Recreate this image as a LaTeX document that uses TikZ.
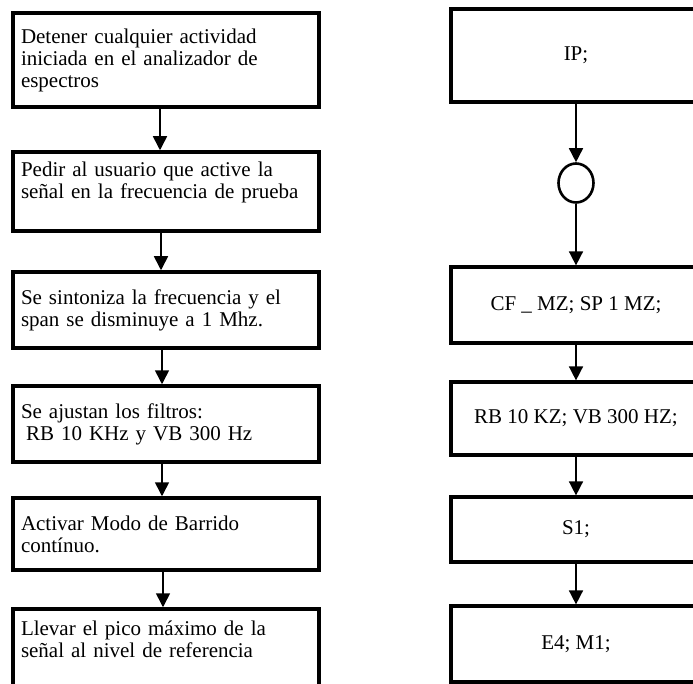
\documentclass[tikz,border=0pt]{standalone}
\usepackage{fontspec}
\setmainfont{Liberation Serif}
\usetikzlibrary{shapes.geometric, arrows.meta, positioning}

\begin{document}
\begin{tikzpicture}[x=1pt, y=-1pt,
  stepbox/.style={draw, line width=3.5pt, align=left, text width=290pt, inner xsep=8pt, inner ysep=0pt, font=\fontsize{21}{22}\selectfont},
  codebox/.style={draw, line width=3.2pt, minimum width=250pt, inner sep=0pt, font=\fontsize{21}{22}\selectfont},
  joint/.style={draw, ellipse, line width=2.6pt, minimum width=35pt, minimum height=39pt, inner sep=0pt},
  flow/.style={-{Triangle[width=14pt,length=14pt]}, line width=1.6pt}]
  % Page frame
  \clip (0,0) rectangle (693,684);

  % Left column: steps
  \node[stepbox, minimum height=94pt] (detener) at (166,60) {Detener cualquier actividad\\ iniciada en el analizador de\\ espectros};
  \node[stepbox, minimum height=79pt] (pedir) at (166,191.5) {Pedir al usuario que active la\\ señal en la frecuencia de prueba\\ \mbox{}};
  \node[stepbox, minimum height=76pt] (sintonia) at (166,310) {Se sintoniza la frecuencia y el\\ span se disminuye a 1 Mhz.};
  \node[stepbox, minimum height=76pt] (filtros) at (166,424) {Se ajustan los filtros:\\ \hspace*{5pt}RB 10 KHz y VB 300 Hz};
  \node[stepbox, minimum height=72pt] (barrido) at (166,534) {Activar Modo de Barrido\\ contínuo.};
  \node[stepbox, minimum height=82pt] (pico) at (166,650) {Llevar el pico máximo de la\\ señal al nivel de referencia\\ \mbox{}};

  \draw[flow] ([xshift=-6pt]detener.south) -- ([xshift=-6pt]pedir.north);
  \draw[flow] ([xshift=-5pt]pedir.south) -- ([xshift=-5pt]sintonia.north);
  \draw[flow] ([xshift=-4pt]sintonia.south) -- ([xshift=-4pt]filtros.north);
  \draw[flow] ([xshift=-4pt]filtros.south) -- ([xshift=-4pt]barrido.north);
  \draw[flow] ([xshift=-3pt]barrido.south) -- ([xshift=-3pt]pico.north);

  % Right column: commands
  \node[codebox, minimum height=93pt] (ip) at (576,55.5) {IP;};
  \node[joint] (nudo) at (576,183) {};
  \node[codebox, minimum height=76pt] (cf) at (576,305) {CF \_ MZ; SP 1 MZ;};
  \node[codebox, minimum height=73pt] (rb) at (576,418.5) {RB 10 KZ; VB 300 HZ;};
  \node[codebox, minimum height=65pt] (s1) at (576,529.5) {S1;};
  \node[codebox, minimum height=76pt] (e4) at (576,644) {E4; M1;};

  \draw[flow] (ip) -- (nudo);
  \draw[flow] (nudo) -- (cf);
  \draw[flow] (cf) -- (rb);
  \draw[flow] (rb) -- (s1);
  \draw[flow] (s1) -- (e4);
\end{tikzpicture}
\end{document}
